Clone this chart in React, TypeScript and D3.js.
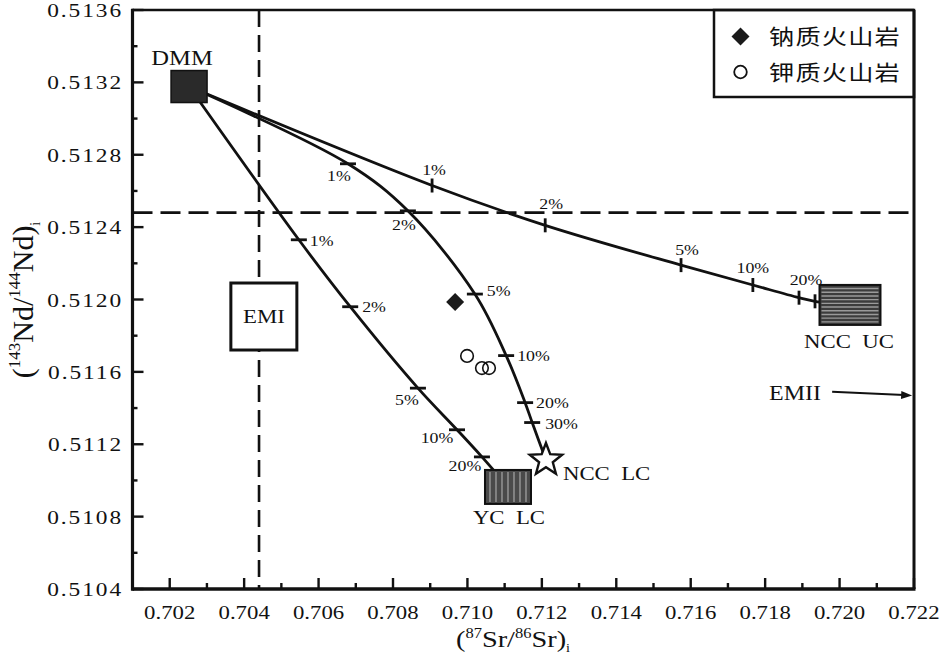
import React from 'react';
import * as d3 from 'd3';

const W = 945;
const H = 659;
const SERIF = '"Liberation Serif", "Times New Roman", Times, serif';
const CJK = '"Noto Sans CJK SC", "Noto Sans", sans-serif';

// Axes
const xMajorTicks = [0.702, 0.704, 0.706, 0.708, 0.71, 0.712, 0.714, 0.716, 0.718, 0.72, 0.722];
const xTickLabels = ['0.702', '0.704', '0.706', '0.708', '0.710', '0.712', '0.714', '0.716', '0.718', '0.720', '0.722'];
const xMinorTicks = [0.703, 0.705, 0.707, 0.709, 0.711, 0.713, 0.715, 0.717, 0.719, 0.721];
const yMajorTicks = [0.5104, 0.5108, 0.5112, 0.5116, 0.512, 0.5124, 0.5128, 0.5132, 0.5136];
const yTickLabels = ['0.5104', '0.5108', '0.5112', '0.5116', '0.5120', '0.5124', '0.5128', '0.5132', '0.5136'];
const yMinorTicks = [0.5106, 0.511, 0.5114, 0.5118, 0.5122, 0.5126, 0.513, 0.5134];

// End members: DMM, EMI, NCC UC, YC LC, NCC LC
const endNames = ['DMM', 'EMI', 'NCC\u00A0\u00A0UC', 'YC\u00A0\u00A0LC', 'NCC\u00A0\u00A0LC'];
const endSr = [0.70252, 0.70453, 0.72028, 0.71109, 0.71211];
const endNd = [0.513177, 0.511906, 0.51197, 0.510964, 0.511113];

// Reference lines
const emiSrLine = 0.7044;
const chondriteNdLine = 0.51248;

// Samples
const sodicSr = [0.70967];
const sodicNd = [0.511986];
const potassicSr = [0.70999, 0.71039, 0.71058];
const potassicNd = [0.511688, 0.511621, 0.511621];

// Mixing curve DMM - NCC UC
const ucPct = ['1%', '2%', '5%', '10%', '20%', ''];
const ucSr = [0.70905, 0.71209, 0.71574, 0.71767, 0.71891, 0.71934];
const ucNd = [0.51263, 0.51241, 0.51219, 0.51208, 0.51201, 0.51199];

// Mixing curve DMM - NCC LC
const lcPct = ['1%', '2%', '5%', '10%', '20%', '30%'];
const lcSr = [0.70679, 0.7084, 0.7102, 0.71104, 0.71155, 0.71174];
const lcNd = [0.51275, 0.51249, 0.51203, 0.51169, 0.51143, 0.51132];

// Mixing curve DMM - YC LC
const ycPct = ['1%', '2%', '5%', '10%', '20%'];
const ycSr = [0.70547, 0.70685, 0.70867, 0.70972, 0.71039];
const ycNd = [0.51233, 0.51196, 0.51151, 0.51128, 0.51113];

const legendLabels = ['钠质火山岩', '钾质火山岩'];

type TP = {
  x: number; y: number; size: number; sx?: number; anchor?: string; ls?: number;
  family?: string; children: React.ReactNode;
};
const T = ({ x, y, size, sx = 1.2, anchor = 'middle', ls = 0, family = SERIF, children }: TP) => (
  <text
    transform={`translate(${x},${y}) scale(${sx},1)`}
    fontSize={size}
    textAnchor={anchor as any}
    letterSpacing={ls}
    fontFamily={family}
    fill="#111"
  >
    {children}
  </text>
);

export default function App() {
  const L = 132.5, R = 914, TOP = 10, BOT = 589;
  const x = d3.scaleLinear().domain([0.701, 0.722]).range([L, R]);
  const y = d3.scaleLinear().domain([0.5104, 0.5136]).range([BOT, TOP]);
  const line = d3
    .line<[number, number]>()
    .x((d) => x(d[0]))
    .y((d) => y(d[1]))
    .curve(d3.curveCatmullRom.alpha(0.5));

  const dmm: [number, number] = [endSr[0], endNd[0]];

  const curves = [
    {
      sr: ucSr, nd: ucNd, pct: ucPct, end: [endSr[2], endNd[2]] as [number, number], vertical: true,
      off: [[2, -11], [6, -16], [6, -10], [0, -12], [7, -13], [0, 0]],
      anchor: ['middle', 'middle', 'middle', 'middle', 'middle', 'middle'],
    },
    {
      sr: lcSr, nd: lcNd, pct: lcPct, end: [endSr[4], endNd[4]] as [number, number], vertical: false,
      off: [[-9, 17], [-4, 19], [12, 2], [11, 5], [11, 5], [13, 6]],
      anchor: ['middle', 'middle', 'start', 'start', 'start', 'start'],
    },
    {
      sr: ycSr, nd: ycNd, pct: ycPct, end: [endSr[3], endNd[3]] as [number, number], vertical: false,
      off: [[11, 6], [12, 5], [-11, 17], [-20, 13], [-17, 14]],
      anchor: ['start', 'start', 'middle', 'middle', 'middle'],
    },
  ];

  // Star for NCC LC
  const starCx = x(endSr[4]);
  const starCy = y(endNd[4]);
  const starPts: string[] = [];
  for (let i = 0; i < 10; i++) {
    const r = i % 2 === 0 ? 17 : 7.2;
    const a = -Math.PI / 2 + (i * Math.PI) / 5;
    starPts.push(`${starCx + r * Math.cos(a)},${starCy + r * Math.sin(a)}`);
  }

  const dx0 = x(endSr[0]), dy0 = y(endNd[0]);
  const ex = x(endSr[1]), ey = y(endNd[1]);
  const ux = x(endSr[2]), uy = y(endNd[2]);
  const yx = x(endSr[3]), yy = y(endNd[3]);

  const ucW = 61, ucH = 40;
  const ycW = 46, ycH = 34;
  const ucStripes = d3.range(0, 10).map((i) => uy - ucH / 2 + 3.6 + i * 3.7);
  const ycStripes = d3.range(0, 7).map((i) => yx - ycW / 2 + 5 + i * 6);

  // EMII arrow
  const ax1 = x(0.7198), ay1 = y(0.51149);
  const ax2 = x(0.72195), ay2 = y(0.51147);
  const ang = Math.atan2(ay2 - ay1, ax2 - ax1);
  const ahL = 11, ahW = 4;
  const ah = [
    [ax2, ay2],
    [ax2 - ahL * Math.cos(ang) + ahW * Math.sin(ang), ay2 - ahL * Math.sin(ang) - ahW * Math.cos(ang)],
    [ax2 - ahL * Math.cos(ang) - ahW * Math.sin(ang), ay2 - ahL * Math.sin(ang) + ahW * Math.cos(ang)],
  ];

  const diamond = (cx: number, cy: number, h: number) =>
    `M${cx},${cy - h}L${cx + h},${cy}L${cx},${cy + h}L${cx - h},${cy}Z`;

  return (
    <svg width={W} height={H} style={{ position: 'absolute', left: 0, top: 0, background: '#fff' }}>
      <rect x={0} y={0} width={W} height={H} fill="#fff" />

      {/* dashed reference lines */}
      <line x1={x(emiSrLine)} x2={x(emiSrLine)} y1={TOP} y2={BOT} stroke="#111" strokeWidth={2.6} strokeDasharray="17 8" />
      <line x1={L} x2={R} y1={y(chondriteNdLine)} y2={y(chondriteNdLine)} stroke="#111" strokeWidth={2.8} strokeDasharray="20 8" />

      {/* mixing curves */}
      {curves.map((c, ci) => {
        const pts: [number, number][] = [dmm, ...c.sr.map((s, i) => [s, c.nd[i]] as [number, number]), c.end];
        return <path key={'c' + ci} d={line(pts) || ''} fill="none" stroke="#111" strokeWidth={2.8} />;
      })}

      {/* EMI box */}
      <rect x={ex - 33} y={ey - 33.5} width={66} height={67} fill="#fff" stroke="#111" strokeWidth={3} />
      <T x={ex} y={ey + 6.5} size={19}>{endNames[1]}</T>

      {/* DMM */}
      <rect x={dx0 - 18} y={dy0 - 16} width={36} height={32} fill="#2a2a2a" stroke="#111" strokeWidth={1.5} />
      <T x={dx0 - 7} y={dy0 - 21.5} size={20} sx={1.23}>{endNames[0]}</T>

      {/* NCC UC */}
      <rect x={ux - ucW / 2} y={uy - ucH / 2} width={ucW} height={ucH} fill="#3c3c3c" />
      {ucStripes.map((sy, i) => (
        <line key={'us' + i} x1={ux - ucW / 2 + 2} x2={ux + ucW / 2 - 2} y1={sy} y2={sy} stroke="#9a9a9a" strokeWidth={1.4} />
      ))}
      <rect x={ux - ucW / 2} y={uy - ucH / 2} width={ucW} height={ucH} fill="none" stroke="#111" strokeWidth={2} />
      <T x={ux - 1} y={uy + 43} size={19}>{endNames[2]}</T>

      {/* YC LC */}
      <rect x={yx - ycW / 2} y={yy - ycH / 2} width={ycW} height={ycH} fill="#4a4a4a" />
      {ycStripes.map((sx, i) => (
        <line key={'ys' + i} x1={sx} x2={sx} y1={yy - ycH / 2 + 2} y2={yy + ycH / 2 - 2} stroke="#a0a0a0" strokeWidth={1.3} />
      ))}
      <rect x={yx - ycW / 2} y={yy - ycH / 2} width={ycW} height={ycH} fill="none" stroke="#111" strokeWidth={2} />
      <T x={yx + 1} y={yy + 37} size={19}>{endNames[3]}</T>

      {/* NCC LC star */}
      <polygon points={starPts.join(' ')} fill="#fff" stroke="#111" strokeWidth={2.4} strokeLinejoin="miter" />
      <T x={starCx + 17} y={starCy + 20} size={19} anchor="start">{endNames[4]}</T>

      {/* curve tick marks and labels */}
      {curves.map((c, ci) =>
        c.sr.map((s, i) => {
          const px = x(s), py = y(c.nd[i]);
          const o = c.off[i];
          return (
            <g key={'t' + ci + '-' + i}>
              {c.vertical ? (
                <line x1={px} x2={px} y1={py - 7} y2={py + 7} stroke="#111" strokeWidth={2.8} />
              ) : (
                <line x1={px - 8} x2={px + 8} y1={py} y2={py} stroke="#111" strokeWidth={2.8} />
              )}
              {c.pct[i] ? (
                <T x={px + o[0]} y={py + o[1]} size={15.5} sx={1.15} anchor={c.anchor[i]}>{c.pct[i]}</T>
              ) : null}
            </g>
          );
        })
      )}

      {/* samples */}
      {sodicSr.map((s, i) => (
        <path key={'sd' + i} d={diamond(x(s), y(sodicNd[i]), 9)} fill="#1a1a1a" />
      ))}
      {potassicSr.map((s, i) => (
        <circle key={'pk' + i} cx={x(s)} cy={y(potassicNd[i])} r={6.3} fill="#fff" fillOpacity={0} stroke="#111" strokeWidth={1.6} />
      ))}

      {/* EMII */}
      <T x={769} y={ay1 + 8} size={20} anchor="start">EMII</T>
      <line x1={ax1} y1={ay1} x2={ax2 - 8 * Math.cos(ang)} y2={ay2 - 8 * Math.sin(ang)} stroke="#111" strokeWidth={2} />
      <polygon points={ah.map((p) => p.join(',')).join(' ')} fill="#111" />

      {/* legend */}
      <rect x={714} y={TOP} width={R - 714} height={87} fill="#fff" stroke="#111" strokeWidth={2.5} />
      <path d={diamond(740.5, 36.5, 9)} fill="#1a1a1a" />
      <circle cx={740.5} cy={72} r={6.3} fill="#fff" stroke="#111" strokeWidth={1.8} />
      <T x={769} y={44} size={21} sx={1.2} ls={1} anchor="start" family={CJK}>{legendLabels[0]}</T>
      <T x={769} y={80} size={21} sx={1.2} ls={1} anchor="start" family={CJK}>{legendLabels[1]}</T>

      {/* axes ticks */}
      {xMajorTicks.map((t, i) => (
        <g key={'xm' + i}>
          <line x1={x(t)} x2={x(t)} y1={BOT} y2={BOT - 11} stroke="#111" strokeWidth={2.4} />
          <T x={x(t)} y={619} size={19} sx={1.2}>{xTickLabels[i]}</T>
        </g>
      ))}
      {xMinorTicks.map((t, i) => (
        <line key={'xn' + i} x1={x(t)} x2={x(t)} y1={BOT} y2={BOT - 6} stroke="#111" strokeWidth={2.4} />
      ))}
      {yMajorTicks.map((t, i) => (
        <g key={'ym' + i}>
          <line x1={L} x2={L + 11} y1={y(t)} y2={y(t)} stroke="#111" strokeWidth={2.4} />
          <T x={123} y={y(t) + 7} size={19.5} sx={1.2} ls={1.6} anchor="end">{yTickLabels[i]}</T>
        </g>
      ))}
      {yMinorTicks.map((t, i) => (
        <line key={'yn' + i} x1={L} x2={L + 5} y1={y(t)} y2={y(t)} stroke="#111" strokeWidth={2.4} />
      ))}

      {/* frame */}
      <line x1={L} x2={R} y1={TOP} y2={TOP} stroke="#111" strokeWidth={2.6} />
      <line x1={R} x2={R} y1={TOP} y2={BOT} stroke="#111" strokeWidth={3} />
      <line x1={L} x2={R + 1.5} y1={BOT} y2={BOT} stroke="#111" strokeWidth={3.4} />
      <line x1={L} x2={L} y1={TOP - 1.3} y2={BOT + 1.7} stroke="#111" strokeWidth={3.2} />

      {/* axis titles */}
      <text transform={`translate(513,647) scale(1.18,1)`} fontFamily={SERIF} fontSize={24} textAnchor="middle" fill="#111">
        (<tspan fontSize={14} dy={-9}>87</tspan>
        <tspan dy={9}>Sr/</tspan>
        <tspan fontSize={14} dy={-9}>86</tspan>
        <tspan dy={9}>Sr)</tspan>
        <tspan fontSize={12} dy={5}>i</tspan>
      </text>
      <text transform={`translate(33,300) rotate(-90)`} fontFamily={SERIF} fontSize={30} textAnchor="middle" fill="#111">
        (<tspan fontSize={17} dy={-13}>143</tspan>
        <tspan dy={13}>Nd/</tspan>
        <tspan fontSize={17} dy={-13}>144</tspan>
        <tspan dy={13}>Nd)</tspan>
        <tspan fontSize={14} dy={7}>i</tspan>
      </text>
    </svg>
  );
}
